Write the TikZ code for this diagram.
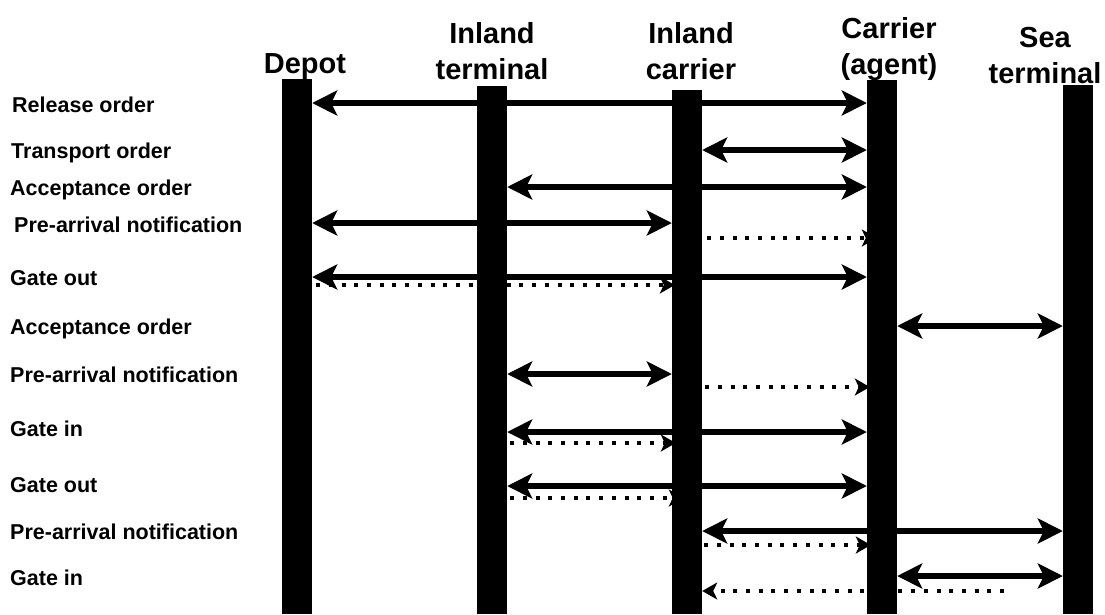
\documentclass[tikz,border=0pt]{standalone}
\usepackage{fontspec}
\setmainfont{Liberation Sans}
\usetikzlibrary{arrows.meta,calc}

\tikzset{
  lifeline/.style={fill=black, inner sep=0pt, minimum width=30pt, anchor=north},
  actor/.style={font=\fontsize{29}{36}\selectfont\bfseries, align=center, inner sep=0pt, anchor=north},
  msgname/.style={font=\fontsize{21.5}{25}\selectfont\bfseries, inner sep=0pt, anchor=base west},
  msg/.style={line width=6pt,
    {Stealth[length=25pt,width=25pt,inset=6pt]}-{Stealth[length=25pt,width=25pt,inset=6pt]}},
  ack/.style={line width=4pt, dash pattern=on 4pt off 8.7pt,
    -{Stealth[length=15pt,width=17pt,inset=4pt]}}
}

\begin{document}
\begin{tikzpicture}[x=1pt, y=-1pt]
    \useasboundingbox (0,0) rectangle (1105,614);

    % the five parties and their lifelines
    \node[lifeline, minimum height=535pt] (depot) at (297,79) {};
    \node[lifeline, minimum height=528pt] (iterm) at (492,86) {};
    \node[lifeline, minimum height=524pt] (icarr) at (687,90) {};
    \node[lifeline, minimum height=534pt] (agent) at (882,80) {};
    \node[lifeline, minimum height=529pt] (sea)   at (1078,85) {};

    \node[actor] (depotname) at (305,53) {Depot};
    \node[actor] (itermname) at (492,22) {Inland\\terminal};
    \node[actor] (icarrname) at (691,22) {Inland\\carrier};
    \node[actor] (agentname) at (889,17) {Carrier\\(agent)};
    \node[actor] (seaname)   at (1045,27) {Sea\\terminal};

    % message names
    \node[msgname] (m1)  at (12,112) {Release order};
    \node[msgname] (m2)  at (11,158) {Transport order};
    \node[msgname] (m3)  at (10,195) {Acceptance order};
    \node[msgname] (m4)  at (14,232) {Pre-arrival notification};
    \node[msgname] (m5)  at (10,285) {Gate out};
    \node[msgname] (m6)  at (10,334) {Acceptance order};
    \node[msgname] (m7)  at (10,382) {Pre-arrival notification};
    \node[msgname] (m8)  at (10,436) {Gate in};
    \node[msgname] (m9)  at (10,492) {Gate out};
    \node[msgname] (m10) at (10,539) {Pre-arrival notification};
    \node[msgname] (m11) at (10,585) {Gate in};

    % rows: r = message, d = dotted follow-up
    \coordinate (r1)  at (0,103);
    \coordinate (r2)  at (0,150);
    \coordinate (r3)  at (0,187);
    \coordinate (r4)  at (0,223);  \coordinate (d4)  at (0,238);
    \coordinate (r5)  at (0,277);  \coordinate (d5)  at (0,285);
    \coordinate (r6)  at (0,326);
    \coordinate (r7)  at (0,374);  \coordinate (d7)  at (0,387);
    \coordinate (r8)  at (0,432);  \coordinate (d8)  at (0,443);
    \coordinate (r9)  at (0,486);  \coordinate (d9)  at (0,498);
    \coordinate (r10) at (0,531);  \coordinate (d10) at (0,545);
    \coordinate (r11) at (0,576);  \coordinate (d11) at (1004,591);

    \draw[msg] (depot.east |- r1) -- (agent.west |- r1);
    \draw[msg] (icarr.east |- r2) -- (agent.west |- r2);
    \draw[msg] (iterm.east |- r3) -- (agent.west |- r3);

    \draw[msg] (depot.east |- r4) -- (icarr.west |- r4);
    \draw[ack] ($(icarr.east |- d4)+(5,0)$) -- ($(agent.west |- d4)+(10,0)$);

    \draw[msg] (depot.east |- r5) -- (agent.west |- r5);
    \draw[ack] ($(depot.east |- d5)+(4,0)$) -- ($(icarr.west |- d5)+(3,0)$);

    \draw[msg] (agent.east |- r6) -- (sea.west |- r6);

    \draw[msg] (iterm.east |- r7) -- (icarr.west |- r7);
    \draw[ack] ($(icarr.east |- d7)+(3,0)$) -- ($(agent.west |- d7)+(3,0)$);

    \draw[msg] (iterm.east |- r8) -- (agent.west |- r8);
    \draw[ack] ($(iterm.east |- d8)+(3,0)$) -- ($(icarr.west |- d8)+(4,0)$);

    \draw[msg] (iterm.east |- r9) -- (agent.west |- r9);
    \draw[ack] ($(iterm.east |- d9)+(3,0)$) -- ($(icarr.west |- d9)+(12,0)$);

    \draw[msg] (icarr.east |- r10) -- (sea.west |- r10);
    \draw[ack] ($(icarr.east |- d10)+(2,0)$) -- ($(agent.west |- d10)+(4,0)$);

    \draw[msg] (agent.east |- r11) -- (sea.west |- r11);
    \draw[ack] (d11) -- (icarr.east |- d11);
\end{tikzpicture}
\end{document}
